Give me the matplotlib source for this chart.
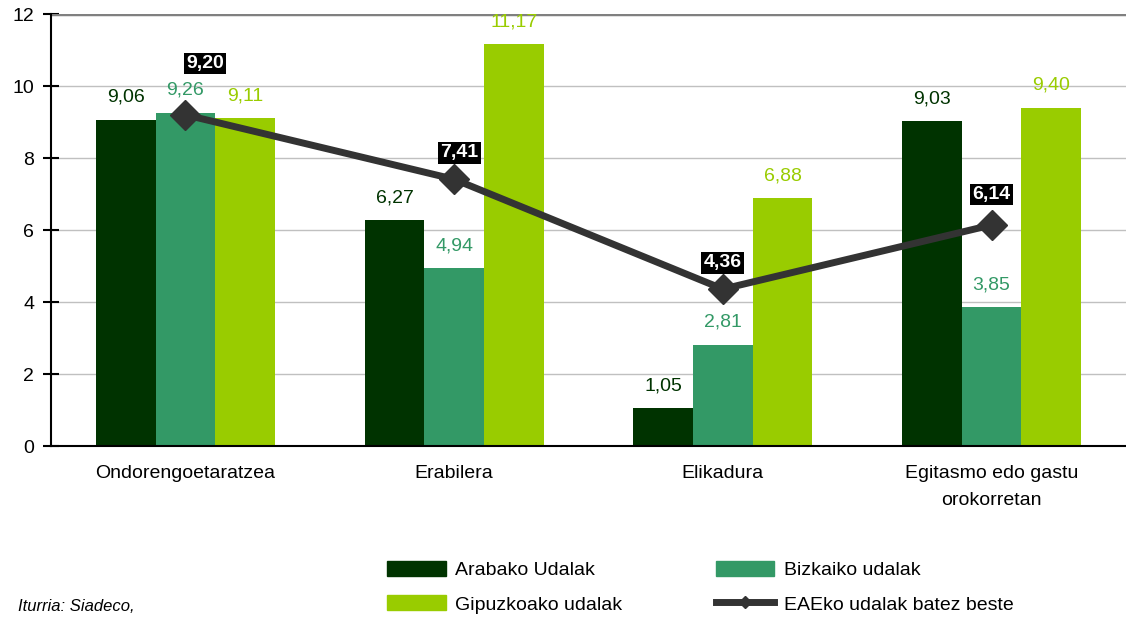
import matplotlib.pyplot as plt
import numpy as np
from matplotlib.patches import Patch
from matplotlib.lines import Line2D

plt.rcParams['font.family'] = ['Liberation Sans', 'DejaVu Sans']

categories = ['Ondorengoetaratzea', 'Erabilera', 'Elikadura', 'Egitasmo edo gastu\norokorretan']
araba = [9.06, 6.27, 1.05, 9.03]
bizkaia = [9.26, 4.94, 2.81, 3.85]
gipuzkoa = [9.11, 11.17, 6.88, 9.40]
eae = [9.20, 7.41, 4.36, 6.14]

series_names = ['Arabako Udalak', 'Bizkaiko udalak', 'Gipuzkoako udalak']
line_name = 'EAEko udalak batez beste'
colors = ['#003300', '#339966', '#99cc00']

def fmt(v):
    return '{:.2f}'.format(v).replace('.', ',')

fig = plt.figure(figsize=(11.26, 6.18), dpi=100)
ax = fig.add_axes([0.0453, 0.2783, 0.9547, 0.699])

x = np.arange(len(categories))
w = 0.222
for i, (vals, c) in enumerate(zip([araba, bizkaia, gipuzkoa], colors)):
    xs = x + (i - 1) * w
    ax.bar(xs, vals, width=w, color=c, zorder=2)
    for xi, v in zip(xs, vals):
        ax.annotate(fmt(v), (xi, v), xytext=(0, 10), textcoords='offset points',
                    ha='center', va='bottom', color=c, fontsize=14)

ax.plot(x, eae, color='#333333', lw=5, marker='D', ms=15, zorder=4)
# label offsets (points) for the average line
offs = [(14, 37), (4, 19), (0, 19), (0, 22)]
for xi, v, (dx, dy) in zip(x, eae, offs):
    ax.annotate(fmt(v), (xi, v), xytext=(dx, dy), textcoords='offset points',
                ha='center', va='center', color='white', fontsize=14, fontweight='bold',
                bbox=dict(boxstyle='square,pad=0.12', fc='black', ec='none'), zorder=5)

ax.set_xlim(-0.5, 3.5)
ax.set_ylim(0, 12)
ax.set_yticks(range(0, 13, 2))
ax.set_xticks(x)
ax.set_xticklabels(categories, fontsize=14, linespacing=1.7)
ax.tick_params(axis='y', labelsize=14, direction='inout', length=12, width=1.5, pad=6)
ax.tick_params(axis='x', length=0, pad=14)
ax.yaxis.grid(True, color='#c0c0c0', lw=1, zorder=0)
ax.set_axisbelow(True)
for s in ['top', 'right']:
    ax.spines[s].set_visible(False)
ax.spines['left'].set_linewidth(1.5)
ax.spines['bottom'].set_linewidth(1.5)
ax.axhline(12, color='#808080', lw=2.5, zorder=1)

handles = [Patch(color=colors[0]), Patch(color=colors[2]),
           Patch(color=colors[1]),
           Line2D([], [], color='#333333', lw=5, marker='D', ms=6)]
labels = [series_names[0], series_names[2], series_names[1], line_name]
fig.legend(handles, labels, ncol=2, loc='center', bbox_to_anchor=(0.622, 0.05),
           frameon=False, fontsize=14, handlelength=3.0, handleheight=0.8,
           columnspacing=4.8, labelspacing=0.85, handletextpad=0.5)

fig.text(0.016, 0.012, 'Iturria: Siadeco,', style='italic', fontsize=12)

fig.savefig('out.png', dpi=100)
